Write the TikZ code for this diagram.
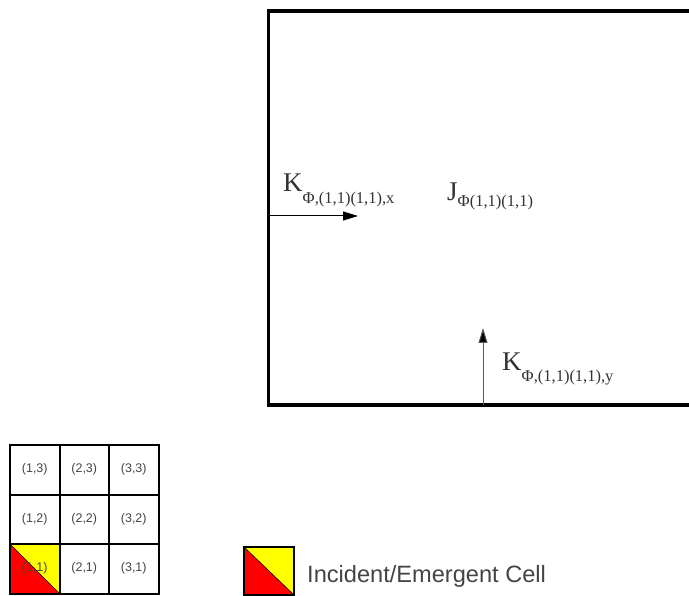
\documentclass[tikz,border=0pt]{standalone}
\usepackage{fontspec}
\setmainfont{Liberation Serif}
\setsansfont{Liberation Sans}
\usetikzlibrary{arrows.meta}
\definecolor{txtgray}{HTML}{444444}
\definecolor{serifgray}{HTML}{333333}
\definecolor{cellred}{HTML}{FF0000}
\definecolor{cellyellow}{HTML}{FFFF00}
\newcommand{\subtxt}[2]{{\fontsize{16.5}{16.5}\selectfont\raisebox{-#1pt}{#2}}}
\begin{document}
\begin{tikzpicture}[x=1pt,y=-1pt,
  cellbox/.style={draw=black,line width=2pt,minimum width=49.5pt,minimum height=49.5pt,inner sep=0pt,
    font=\sffamily\fontsize{12.5}{12.5}\selectfont,text=txtgray},
  biglabel/.style={font=\fontsize{27}{27}\selectfont,text=serifgray,inner sep=0pt,anchor=base west},
  arrowline/.style={line width=1pt,-{Triangle[length=15pt,width=9pt]}},
]
\useasboundingbox (0,0) rectangle (689,596);
% big region (open to the right)
\draw[line width=3.5pt] (689,11) -- (268.5,11) -- (268.5,405) -- (689,405);
\coordinate (kxs) at (268.5,216);
\coordinate (kxe) at (358,216);
\coordinate (kys) at (483,405);
\coordinate (kye) at (483,328);
\draw[arrowline,black] (kxs) -- (kxe);
\draw[arrowline,draw=black!65,-{Triangle[length=15pt,width=9pt,fill=black]}] (kys) -- (kye);
\node[biglabel] (kx) at (283,192) {K\subtxt{12}{Φ,(1,1)(1,1),x}};
\node[biglabel] (jl) at (447,201) {J\subtxt{5.5}{Φ(1,1)(1,1)}};
\node[biglabel] (ky) at (502,371) {K\subtxt{11}{Φ,(1,1)(1,1),y}};
% grid
\fill[cellyellow] (10,544) -- (59.5,544) -- (59.5,593.5) -- cycle;
\fill[cellred] (10,544) -- (10,593.5) -- (59.5,593.5) -- cycle;
\draw[line width=0.6pt] (10,544) -- (59.5,593.5);
\node[cellbox] (c11) at (34.75,568.75) {(1,1)};
\node[cellbox] (c21) at (84.25,568.75) {(2,1)};
\node[cellbox] (c31) at (133.75,568.75) {(3,1)};
\node[cellbox] (c12) at (34.75,519.25) {(1,2)};
\node[cellbox] (c22) at (84.25,519.25) {(2,2)};
\node[cellbox] (c32) at (133.75,519.25) {(3,2)};
\node[cellbox] (c13) at (34.75,469.75) {(1,3)};
\node[cellbox] (c23) at (84.25,469.75) {(2,3)};
\node[cellbox] (c33) at (133.75,469.75) {(3,3)};
% legend
\fill[cellyellow] (244,547) -- (294,547) -- (294,595) -- cycle;
\fill[cellred] (244,547) -- (244,595) -- (294,595) -- cycle;
\draw[line width=0.6pt] (244,547) -- (294,595);
\draw[line width=2pt] (244,547) rectangle (294,595);
\node[font=\sffamily\fontsize{23.6}{23.6}\selectfont,text=txtgray,anchor=base west,inner sep=0pt] (leg) at (307,582) {Incident/Emergent Cell};
\end{tikzpicture}
\end{document}
